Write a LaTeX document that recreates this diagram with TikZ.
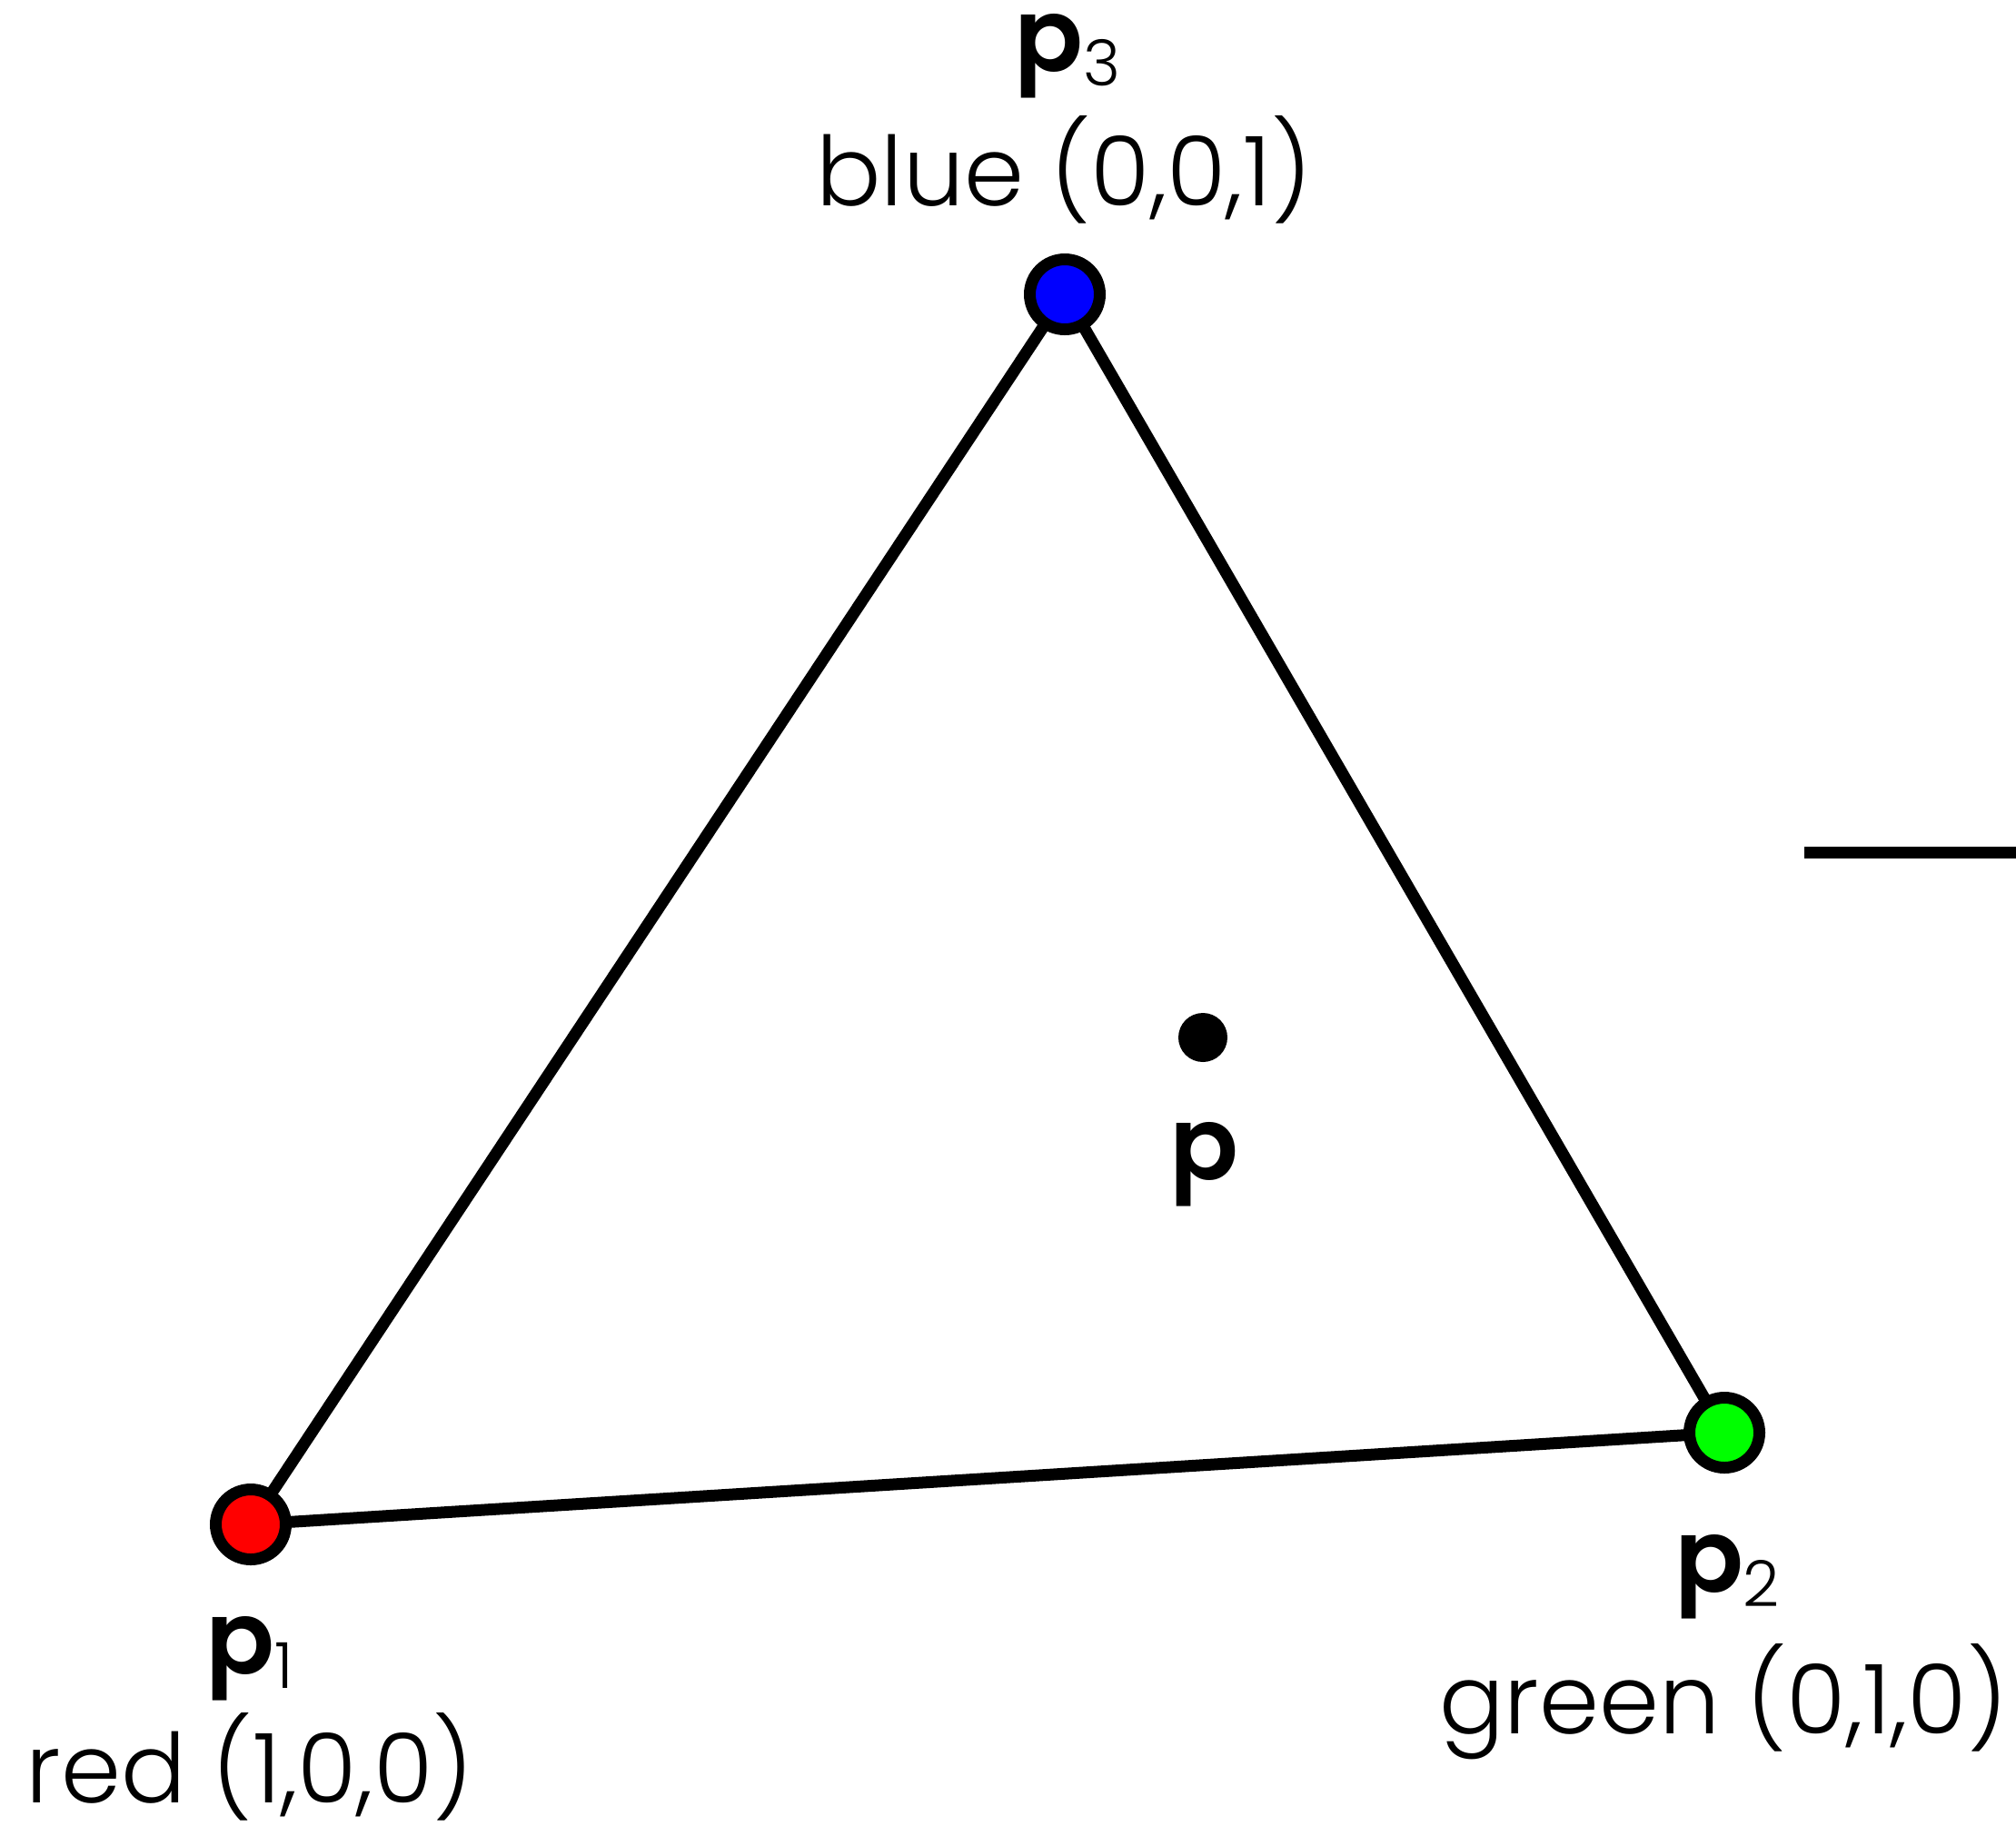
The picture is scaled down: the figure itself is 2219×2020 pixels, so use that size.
\documentclass[tikz,border=0pt]{standalone}
\usepackage{fontspec}
\setmainfont{Poppins}[UprightFont=* Light, BoldFont=* SemiBold]
\newcommand{\labfont}{\fontsize{53}{62}\selectfont}
\newcommand{\boldp}{\fontsize{56}{62}\selectfont\bfseries p}
\newcommand{\subd}[1]{\raisebox{-8pt}{\fontsize{35}{40}\selectfont #1}}
\begin{document}
\begin{tikzpicture}[x=0.5pt,y=-0.5pt,
  vert/.style={circle,draw=black,line width=6.5pt,minimum size=38.5pt,inner sep=0pt},
  edge/.style={line width=6.5pt,black},
  lab/.style={anchor=base,inner sep=0pt,font=\labfont}]
\useasboundingbox (0,0) rectangle (2219,2020);
% edges first
\coordinate (c1) at (276,1678);
\coordinate (c2) at (1898,1577);
\coordinate (c3) at (1172,324);
\draw[edge] (c1) -- (c2) -- (c3) -- cycle;
\node[vert,fill=red] (v1) at (c1) {};
\node[vert,fill={rgb,255:red,0;green,255;blue,0}] (v2) at (c2) {};
\node[vert,fill=blue] (v3) at (c3) {};
\node[circle,fill=black,minimum size=27pt,inner sep=0pt] (pp) at (1324,1142) {};
% labels
\node[lab] (l3) at (1175,78) {{\boldp}\subd{3}};
\node[lab] (t3) at (1171,226) {blue (0,0,1)};
\node[lab] (l1) at (275,1842) {{\boldp}\subd{1}};
\node[lab] (t1) at (275,1984) {red (1,0,0)};
\node[lab] (l2) at (1901,1752) {{\boldp}\subd{2}};
\node[lab] (t2) at (1897,1908) {green (0,1,0)};
\node[lab] (lp) at (1325,1298) {\boldp};
% right line
\coordinate (r1) at (1986,938);
\coordinate (r2) at (2219,938);
\draw[line width=6.5pt] (r1) -- (r2);
\end{tikzpicture}
\end{document}
